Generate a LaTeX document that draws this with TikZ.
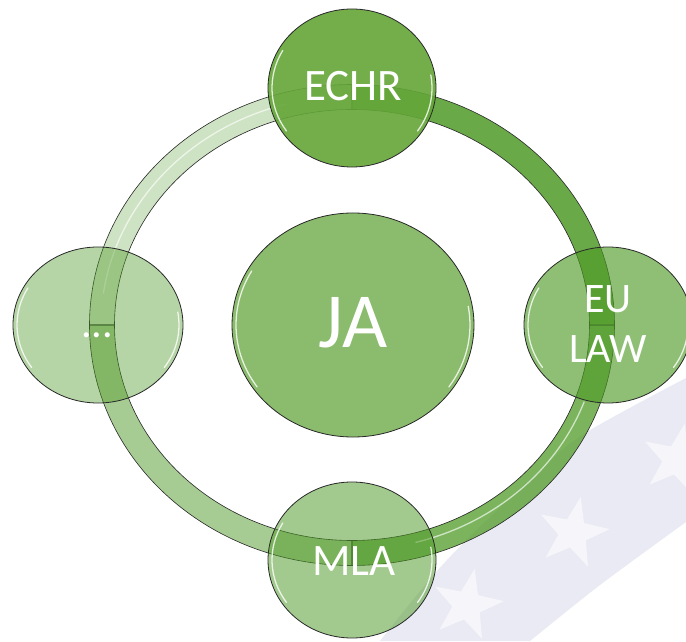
\documentclass[tikz,border=0pt]{standalone}
\usepackage{fontspec}
\setmainfont{Carlito}
\usetikzlibrary{shapes.geometric,calc}
\definecolor{basegreen}{RGB}{80,155,40}
\definecolor{echrgreen}{RGB}{100,166,56}
\definecolor{jagreen}{RGB}{139,187,108}
\definecolor{bandlav}{RGB}{233,234,243}
\definecolor{starwhite}{RGB}{245,245,250}
\definecolor{outline}{RGB}{40,40,40}
\newcommand{\ringseg}[3]{%
  \path[seg, fill=basegreen, fill opacity=#3]
    ($(C)+(#1:262.5 and 240.5)$) arc[start angle=#1, end angle=#2, x radius=262.5, y radius=240.5]
    -- ($(C)+(#2:237.5 and 215.5)$) arc[start angle=#2, end angle=#1, x radius=237.5, y radius=215.5]
    -- cycle;}
\newcommand{\glossarc}[3]{%
  \draw[gloss] ($(#1.center)+(150:#2 and #3)$) arc[start angle=150, end angle=215, x radius=#2, y radius=#3];
  \draw[gloss] ($(#1.center)+(-35:#2 and #3)$) arc[start angle=-35, end angle=10, x radius=#2, y radius=#3];}
\begin{document}
\begin{tikzpicture}[x=1pt,y=1pt,
  disc/.style={ellipse, draw=outline, line width=0.8pt, inner sep=0pt},
  txt/.style={text=white, inner sep=0pt, align=center},
  seg/.style={draw=outline, line width=0.6pt},
  gloss/.style={white, line width=1.3pt, line cap=round, opacity=0.8},
  starshape/.style={star, star points=5, star point ratio=2.5, minimum size=74pt, fill=starwhite, inner sep=0pt}]
\useasboundingbox (0,0) rectangle (686,641);
\clip (0,0) rectangle (686,641);
\fill[white] (0,0) rectangle (686,641);
% faint flag band in the background
\fill[bandlav] plot[smooth] coordinates {(380,0) (447,81) (540,171) (587,209) (686,263)}
  -- (686,119) -- plot[smooth] coordinates {(686,119) (600,56) (530,0)} -- cycle;
\node[starshape, rotate=-12] (s1) at (573,108) {};
\node[starshape, rotate=-12] (s2) at (677,181) {};
\node[starshape, rotate=-12] (s3) at (467,36) {};
% ring
\coordinate (C) at (352,316);
\ringseg{90}{180}{0.28}
\ringseg{180}{270}{0.5}
\ringseg{270}{360}{0.75}
\ringseg{0}{90}{0.85}
\draw[gloss, opacity=0.65] ($(C)+(285:247 and 225)$) arc[start angle=285, end angle=340, x radius=247, y radius=225];
\draw[gloss, opacity=0.65] ($(C)+(105:251 and 229)$) arc[start angle=105, end angle=172, x radius=251, y radius=229];
% circles
\node[disc, minimum width=170pt, minimum height=156pt, fill=basegreen, fill opacity=0.41] (dots) at (98,316) {};
\node[disc, minimum width=168pt, minimum height=156pt, fill=basegreen, fill opacity=0.52] (mla) at (352,81) {};
\node[disc, minimum width=168pt, minimum height=156pt, fill=basegreen, fill opacity=0.64] (eu) at (608,316) {};
\node[disc, minimum width=168pt, minimum height=158pt, fill=echrgreen, fill opacity=0.9] (echr) at (352,553) {};
\node[disc, minimum width=242pt, minimum height=224pt, fill=jagreen] (ja) at (353,316) {};
\glossarc{dots}{81}{74}
\glossarc{mla}{80}{74}
\glossarc{eu}{80}{74}
\glossarc{echr}{80}{75}
\glossarc{ja}{117}{108}
% texts
\node[txt, font=\fontsize{45}{52}\selectfont] (echrt) at (353,555) {ECHR};
\node[txt, font=\fontsize{45}{52}\selectfont] (mlat) at (354,80) {MLA};
\node[txt, font=\fontsize{42}{50}\selectfont] (eut) at (608,316.5) {EU\\LAW};
\node[txt, font=\fontsize{78}{90}\selectfont] (jat) at (353,318) {JA};
\node[txt, font=\fontsize{42}{50}\selectfont, anchor=base] (dotst) at (97,303) {...};
\end{tikzpicture}
\end{document}
